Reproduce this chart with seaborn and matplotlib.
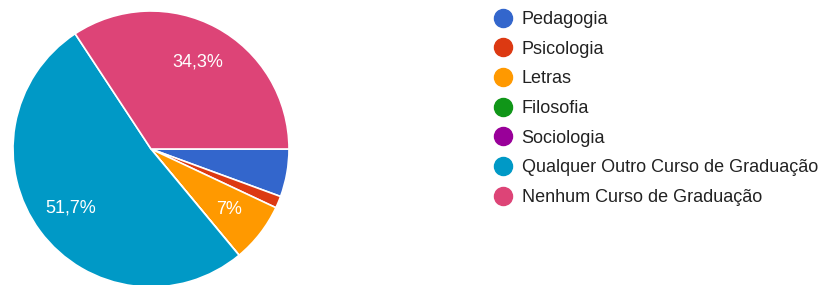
import numpy as np
import matplotlib.pyplot as plt
from matplotlib.lines import Line2D
import seaborn as sns

sns.set_theme(style="white")
plt.rcParams['font.family'] = ['Liberation Sans', 'DejaVu Sans']

cursos = ['Pedagogia', 'Psicologia', 'Letras', 'Filosofia', 'Sociologia',
          'Qualquer Outro Curso de Graduação', 'Nenhum Curso de Graduação']
respostas = [8, 2, 10, 0, 0, 74, 49]
cores = ['#3366cc', '#dc3912', '#ff9900', '#109618', '#990099', '#0099c6', '#dd4477']


def rotulo(p):
    # google mostra so fatias maiores
    if p < 6.5:
        return ''
    s = f"{p:.1f}".replace('.0', '').replace('.', ',')
    return s + '%'


fig = plt.figure(figsize=(8.31, 2.85), dpi=100)
W, H = 831, 285
cx, cy, r = 151, 149, 138
ax = fig.add_axes([(cx - r) / W, (H - cy - r) / H, 2 * r / W, 2 * r / H])

wedges, textos, pcts = ax.pie(respostas, colors=cores, startangle=0, counterclock=False,
                              autopct=rotulo, pctdistance=0.72, radius=1,
                              wedgeprops=dict(edgecolor='white', linewidth=1.2),
                              textprops=dict(color='white', fontsize=13))
ax.set_xlim(-1, 1)
ax.set_ylim(-1, 1)
ax.set_aspect('equal')
ax.axis('off')

handles = [Line2D([0], [0], marker='o', linestyle='', markersize=13,
                  markerfacecolor=c, markeredgecolor=c) for c in cores]
fig.legend(handles, cursos, loc='upper left', bbox_to_anchor=(495 / W, 1 - 11 / H),
           frameon=False, fontsize=13, labelspacing=0.70, handlelength=0.85,
           handletextpad=0.62, borderpad=0, borderaxespad=0, labelcolor='#222222')

plt.savefig('out.png', dpi=100)
